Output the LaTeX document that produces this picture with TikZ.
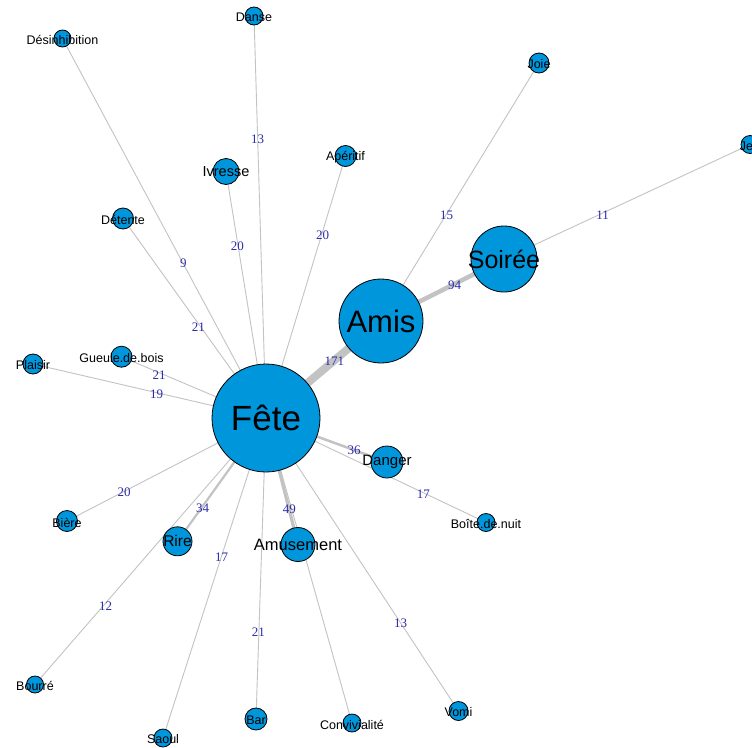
\documentclass[tikz,border=0pt]{standalone}
\usepackage{fontspec}
\setmainfont{Liberation Serif}
\setsansfont{Liberation Sans}
\usetikzlibrary{backgrounds}
\definecolor{nodeblue}{RGB}{0,150,220}
\definecolor{edgegray}{RGB}{195,195,195}
\definecolor{lblblue}{RGB}{45,45,170}
\begin{document}
\begin{tikzpicture}[x=1pt,y=-1pt,
  vtx/.style={circle,draw=black,line width=0.8pt,fill=nodeblue,inner sep=0pt,minimum size=#1},
  big/.style={font=\fontsize{#1}{#1}\selectfont\sffamily,text=black},
  sml/.style={font=\fontsize{12.5}{12.5}\selectfont\sffamily,text=black,yshift=-1.5pt},
  edg/.style={draw=edgegray,line width=#1},
  edg/.default=0.9pt,
  elbl/.style={font=\fontsize{13}{13}\selectfont,text=lblblue,inner sep=0pt}]
\useasboundingbox (0,0) rectangle (752,747);

% vertices
\node[vtx=108pt,label={[big=35]center:Fête}] (fete) at (266,418) {};
\node[vtx=84pt,label={[big=31]center:Amis}] (amis) at (381,321) {};
\node[vtx=66pt,label={[big=25]center:Soirée}] (soiree) at (504,259) {};
\node[vtx=32pt,label={[big=15]center:Danger}] (danger) at (387,462) {};
\node[vtx=34pt,label={[big=16.5]center:Amusement}] (amusement) at (298,544.5) {};
\node[vtx=29pt,label={[big=15.5]center:Rire}] (rire) at (177.5,541.3) {};
\node[vtx=26pt,label={[big=14.5]center:Ivresse}] (ivresse) at (226,171.5) {};
\node[vtx=18pt,label={[sml]center:Danse}] (danse) at (254,16) {};
\node[vtx=17pt,label={[sml]center:Désinhibition}] (desinh) at (62.5,38.5) {};
\node[vtx=21pt,label={[sml]center:Apéritif}] (aperitif) at (345.5,156) {};
\node[vtx=21pt,label={[sml]center:Détente}] (detente) at (123,218.5) {};
\node[vtx=20pt,label={[sml]center:Joie}] (joie) at (539,63) {};
\node[vtx=18pt,label={[sml]center:Jeu}] (jeu) at (750,144.5) {};
\node[vtx=21pt,label={[sml]center:Gueule.de.bois}] (gueule) at (121.5,356.7) {};
\node[vtx=20pt,label={[sml]center:Plaisir}] (plaisir) at (33,364) {};
\node[vtx=21pt,label={[sml]center:Bière}] (biere) at (67,521) {};
\node[vtx=17pt,label={[sml]center:Bourré}] (bourre) at (35,684.5) {};
\node[vtx=18pt,label={[sml]center:Saoul}] (saoul) at (163,738) {};
\node[vtx=22pt,label={[sml]center:Bar}] (bar) at (256,719) {};
\node[vtx=18pt,label={[sml]center:Convivialité}] (convivialite) at (352,723) {};
\node[vtx=19pt,label={[sml]center:Vomi}] (vomi) at (458.5,711) {};
\node[vtx=18pt,label={[sml]center:Boîte.de.nuit}] (boite) at (486,522.5) {};

% edges
\begin{scope}[on background layer]
\fill[white] (0,0) rectangle (752,747);
\draw[edg] (fete.center) -- (desinh.center);
\draw[edg] (fete.center) -- (detente.center);
\draw[edg] (fete.center) -- (ivresse.center);
\draw[edg] (fete.center) -- (danse.center);
\draw[edg] (fete.center) -- (aperitif.center);
\draw[edg] (fete.center) -- (gueule.center);
\draw[edg] (fete.center) -- (plaisir.center);
\draw[edg] (fete.center) -- (biere.center);
\draw[edg] (fete.center) -- (bourre.center);
\draw[edg] (fete.center) -- (saoul.center);
\draw[edg] (fete.center) -- (bar.center);
\draw[edg] (fete.center) -- (convivialite.center);
\draw[edg] (fete.center) -- (vomi.center);
\draw[edg] (fete.center) -- (boite.center);
\draw[edg] (amis.center) -- (joie.center);
\draw[edg] (soiree.center) -- (jeu.center);
\draw[edg=8pt] (fete.center) -- (amis.center);
\draw[edg=4.5pt] (amis.center) -- (soiree.center);
\draw[edg=3.2pt] (fete.center) -- (amusement.center);
\draw[edg=2.5pt] (fete.center) -- (danger.center);
\draw[edg=2.2pt] (fete.center) -- (rire.center);
\end{scope}

% edge labels
\node[elbl] (l-danse) at (257.5,139.3) {13};
\node[elbl] (l-ivresse) at (237.3,246.7) {20};
\node[elbl] (l-aperitif) at (322.7,235) {20};
\node[elbl] (l-desinh) at (183.3,263.5) {9};
\node[elbl] (l-detente) at (198.3,326.7) {21};
\node[elbl] (l-gueule) at (159,375) {21};
\node[elbl] (l-plaisir) at (156.7,394.5) {19};
\node[elbl] (l-amis) at (334.3,361.7) {171};
\node[elbl] (l-soiree) at (454.7,285) {94};
\node[elbl] (l-joie) at (446.7,215) {15};
\node[elbl] (l-jeu) at (602.7,215) {11};
\node[elbl] (l-danger) at (354,450.7) {36};
\node[elbl] (l-boite) at (423.3,494.3) {17};
\node[elbl] (l-biere) at (124,492.3) {20};
\node[elbl] (l-rire) at (202.7,508.3) {34};
\node[elbl] (l-amusement) at (289.3,509) {49};
\node[elbl] (l-saoul) at (221.7,557.3) {17};
\node[elbl] (l-bourre) at (105.7,606) {12};
\node[elbl] (l-bar) at (258.3,631.7) {21};
\node[elbl] (l-vomi) at (400.7,623.3) {13};
\end{tikzpicture}
\end{document}
